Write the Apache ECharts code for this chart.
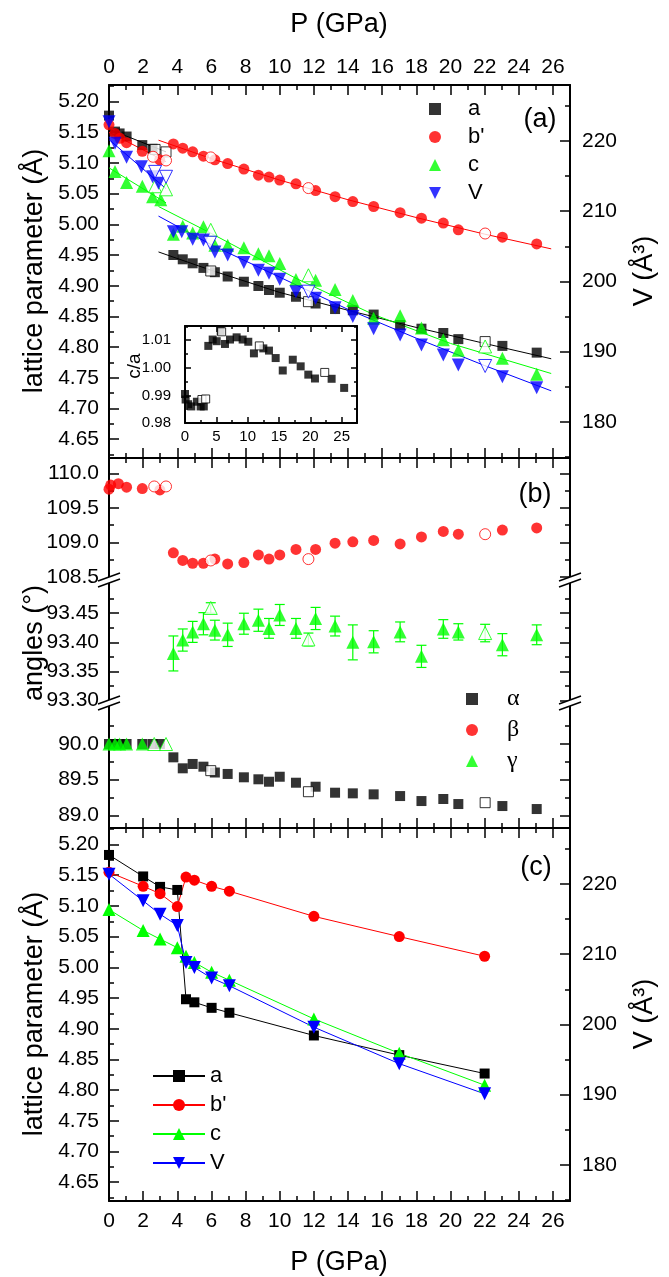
<!DOCTYPE html>
<html>
<head>
<meta charset="utf-8">
<title>Lattice parameters and angles vs pressure</title>
<script src="https://cdn.jsdelivr.net/npm/echarts@6.0.0/dist/echarts.min.js"></script>
<style>
html,body{margin:0;padding:0;background:#ffffff;}
#chart{width:669px;height:1277px;}
</style>
</head>
<body>
<div id="chart"></div>
<script>
// ---------------- tick values ----------------
const pMajorTicks = [0,2,4,6,8,10,12,14,16,18,20,22,24,26];
const pMinorTicks = [1,3,5,7,9,11,13,15,17,19,21,23,25];
const latMajorTicks = [4.65,4.70,4.75,4.80,4.85,4.90,4.95,5.00,5.05,5.10,5.15,5.20];
const latMinorTicks = [4.625,4.675,4.725,4.775,4.825,4.875,4.925,4.975,5.025,5.075,5.125,5.175,5.225];
const volMajorTicks = [180,190,200,210,220];
const volMinorTicks = [175,185,195,205,215,225];
const insetPMajorTicks = [0,5,10,15,20,25];
const insetPMinorTicks = [2.5,7.5,12.5,17.5,22.5];
const caMajorTicks = [0.98,0.99,1.00,1.01];
const caMinorTicks = [0.985,0.995,1.005,1.015];
const betaMajorTicks = [108.5,109.0,109.5,110.0];
const betaMinorTicks = [108.75,109.25,109.75];
const gammaMajorTicks = [93.30,93.35,93.40,93.45];
const gammaMinorTicks = [93.325,93.375,93.425,93.475];
const alphaMajorTicks = [89.0,89.5,90.0];
const alphaMinorTicks = [89.25,89.75,90.25];

// ---------------- panel (a): lattice parameters [P (GPa), value] ----------------
const aFilled = [[0,5.177],[0.35,5.151],[0.62,5.148],[1.03,5.143],[1.95,5.129],[2.55,5.123],
  [3.77,4.950],[4.32,4.943],[4.9,4.9365],[5.53,4.929],[6.2,4.922],[6.95,4.915],[7.9,4.9065],[8.75,4.8995],
  [9.37,4.893],[10.0,4.8886],[10.95,4.882],[12.1,4.871],[13.24,4.862],[14.28,4.860],[15.5,4.853],
  [17.05,4.836],[18.3,4.830],[19.58,4.823],[20.46,4.813],[23.04,4.802],[25.05,4.791]];
const aOpen = [[2.7,5.122],[3.34,5.118],[5.96,4.924],[11.68,4.874],[22.03,4.809]];
const bFilled = [[0,5.162],[0.35,5.148],[0.64,5.140],[1.03,5.133],[1.95,5.119],[2.97,5.105],
  [3.77,5.131],[4.32,5.124],[4.9,5.118],[5.53,5.111],[6.2,5.105],[6.95,5.099],[7.9,5.090],[8.75,5.080],
  [9.37,5.077],[10.0,5.072],[10.95,5.066],[12.1,5.055],[13.24,5.045],[14.28,5.037],[15.5,5.029],
  [17.05,5.019],[18.3,5.010],[19.58,5.002],[20.46,4.991],[23.04,4.979],[25.05,4.968]];
const bOpen = [[2.58,5.110],[3.34,5.104],[5.96,5.109],[11.68,5.059],[22.03,4.985]];
const cFilled = [[0,5.120],[0.35,5.086],[1.03,5.068],[1.95,5.062],[2.55,5.045],[3.03,5.040],
  [3.77,4.984],[4.32,4.997],[4.9,4.986],[5.53,4.996],[6.2,4.966],[6.95,4.966],[7.9,4.962],[8.75,4.952],
  [9.37,4.949],[10.0,4.936],[10.95,4.910],[12.1,4.909],[13.24,4.894],[14.28,4.876],[15.5,4.847],
  [17.05,4.851],[18.3,4.831],[19.58,4.812],[20.46,4.795],[23.04,4.782],[25.05,4.756]];
const cOpen = [[2.7,5.062],[3.34,5.057],[5.96,4.991],[11.68,4.917],[22.03,4.801]];
const vFilled = [[0,222.75],[0.35,219.67],[1.03,217.68],[1.9,216.34],[2.55,214.9],[2.9,213.97],
  [3.77,207.08],[4.26,207.08],[4.9,206.0],[5.53,205.9],[6.2,204.2],[6.95,203.75],[7.9,202.7],[8.75,201.6],
  [9.37,201.15],[10.0,200.3],[10.95,198.53],[12.1,197.58],[13.24,196.25],[14.28,195.0],[15.5,193.25],
  [17.05,192.35],[18.3,190.93],[19.58,189.5],[20.46,188.08],[23.04,186.41],[25.05,184.85]];
const vOpen = [[2.7,215.6],[3.34,214.9],[5.92,205.5],[11.68,198.53],[22.03,187.94]];
// fitted curves
const aFitLow = [[0,5.155],[3.34,5.118]];
const bFitLow = [[0,5.150],[3.34,5.102]];
const cFitLow = [[0,5.092],[3.34,5.035]];
const vFitLow = [[0,220.2],[3.34,213.2]];
const aFitHigh = [[2.9,4.955],[6,4.925],[10,4.889],[14,4.860],[18,4.832],[22,4.806],[25.9,4.781]];
const bFitHigh = [[2.9,5.137],[6,5.107],[10,5.072],[14,5.040],[18,5.011],[22,4.984],[25.9,4.960]];
const cFitHigh = [[2.9,5.029],[6,4.985],[10.95,4.912],[15.5,4.853],[20,4.806],[25.9,4.757]];
const vFitHigh = [[2.9,209.3],[6,205.2],[10,200.6],[14,196.0],[18,191.9],[22,188.0],[25.9,184.4]];

// inset c/a
const caFilled = [[0,0.9905],[0.1,0.9885],[0.5,0.9868],[1.0,0.986],[1.9,0.9877],[2.5,0.986],[3.0,0.986],
  [3.72,1.0079],[4.42,1.0102],[5.06,1.0096],[5.7,1.0133],[6.38,1.0086],[7.18,1.0102],[8.24,1.011],
  [9.2,1.0102],[10.1,1.0094],[11.0,1.0052],[12.5,1.007],[13.4,1.0062],[14.47,1.0035],[15.6,0.999],
  [17.2,1.0029],[18.46,1.0005],[19.68,0.9975],[20.74,0.9961],[23.4,0.996],[25.4,0.9927]];
const caOpen = [[2.7,0.9885],[3.3,0.9887],[5.85,1.013],[11.86,1.0079],[22.3,0.9983]];

// ---------------- panel (b): angles ----------------
const betaFilled = [[0,109.77],[0.1,109.83],[0.55,109.85],[1.03,109.80],[1.95,109.78],[2.98,109.76],
  [3.77,108.85],[4.32,108.74],[4.9,108.70],[5.53,108.70],[6.2,108.76],[6.95,108.69],[7.9,108.71],
  [8.75,108.82],[9.37,108.76],[10.0,108.82],[10.95,108.90],[12.1,108.90],[13.24,108.99],[14.28,109.01],
  [15.5,109.03],[17.05,108.98],[18.3,109.08],[19.58,109.16],[20.46,109.12],[23.04,109.18],[25.05,109.21]];
const betaOpen = [[2.65,109.81],[3.34,109.81],[5.96,108.74],[11.68,108.76],[22.03,109.12]];
// [P, gamma, error]
const gammaFilled = [[3.77,93.381,0.030],[4.32,93.404,0.019],[4.9,93.418,0.018],[5.53,93.432,0.019],
  [6.2,93.421,0.017],[6.95,93.413,0.020],[7.9,93.432,0.018],[8.75,93.438,0.019],[9.37,93.424,0.017],
  [10.0,93.447,0.018],[10.95,93.424,0.017],[12.1,93.441,0.019],[13.24,93.428,0.017],[14.28,93.400,0.030],
  [15.5,93.401,0.019],[17.05,93.418,0.017],[18.3,93.376,0.019],[19.58,93.423,0.016],[20.46,93.418,0.014],
  [23.04,93.396,0.019],[25.05,93.413,0.017]];
const gammaOpen = [[5.96,93.459,0.009],[11.68,93.405,0.011],[22.03,93.416,0.015]];
const gammaLowFilled = [[0,90],[0.35,90],[0.62,90],[1.03,90],[1.95,90]];
const gammaLowOpen = [[2.65,90],[3.34,90]];
const alphaFilled = [[0,90],[0.35,90],[0.62,90],[1.03,90],[1.95,90],[2.55,90],[2.98,90],
  [3.77,89.813],[4.32,89.659],[4.9,89.72],[5.53,89.682],[6.2,89.60],[6.95,89.58],[7.9,89.533],
  [8.75,89.505],[9.37,89.471],[10.0,89.541],[10.95,89.457],[12.1,89.401],[13.24,89.317],[14.28,89.308],
  [15.5,89.294],[17.05,89.27],[18.3,89.20],[19.58,89.229],[20.46,89.158],[23.04,89.13],[25.05,89.088]];
const alphaOpen = [[5.96,89.626],[11.68,89.331],[22.03,89.177]];

// ---------------- panel (c) ----------------
const pC = [0, 2.0, 2.99, 4.0, 4.51, 5.0, 6.01, 7.05, 12.0, 17.0, 22.0];
const aC = [5.183, 5.148, 5.131, 5.126, 4.948, 4.943, 4.934, 4.926, 4.889, 4.857, 4.827];
const bC = [5.155, 5.132, 5.120, 5.099, 5.147, 5.142, 5.132, 5.124, 5.083, 5.050, 5.018];
const cC = [5.094, 5.060, 5.046, 5.032, 5.018, 5.008, 4.992, 4.979, 4.916, 4.860, 4.808];
const vC = [221.4, 217.6, 215.7, 214.1, 208.8, 208.1, 206.6, 205.5, 199.6, 194.4, 190.1];

// ---------------- layout ----------------
const FONT = 'Liberation Sans';
const P_RANGE = [0, 27];
const LAT_RANGE = [4.6194, 5.2269];
const VOL_RANGE = [174.83, 227.98];
const INSET_P_RANGE = [0, 27.45];
const CA_RANGE = [0.98, 1.0151];
const BETA_RANGE = [108.458, 110.221];
const GAMMA_RANGE = [93.296, 93.507];
const ALPHA_RANGE = [88.822, 90.575];

const grids = [
  {left:109, top:85, width:461, height:373},
  {left:185, top:326, width:172, height:97, show:true, backgroundColor:'#fff', borderWidth:0},
  {left:109, top:458, width:461, height:122},
  {left:109, top:580, width:461, height:123},
  {left:109, top:703, width:461, height:125},
  {left:109, top:828, width:461, height:373}
].map(g => Object.assign({containLabel:false, outerBoundsMode:'none'}, g));

const xAxes = [], yAxes = [];
function axis(list, grid, pos, range, ticks, len, opts) {
  opts = opts || {};
  list.push({
    type:'value', gridIndex:grid, position:pos, min:range[0], max:range[1],
    show: !opts.hidden,
    axisLine:{show: opts.line !== false, onZero:false, lineStyle:{color:'#000', width:2}},
    axisTick:{show: len > 0, inside:true, length:len, customValues:ticks, lineStyle:{color:'#000', width:1.5}},
    axisLabel: opts.fmt ? {show:true, customValues:ticks, formatter:opts.fmt, fontSize:opts.fs || 21,
      fontFamily:FONT, color:'#000', margin: opts.margin == null ? 10 : opts.margin, hideOverlap:false}
      : {show:false},
    splitLine:{show:false}, minorTick:{show:false}, minorSplitLine:{show:false},
    silent:true
  });
  return list.length - 1;
}
const fInt = v => String(Math.round(v));
const f2 = v => v.toFixed(2);
const f1 = v => v.toFixed(1);

// grid 0 : panel (a)
const XA = axis(xAxes,0,'top',P_RANGE,pMajorTicks,10,{fmt:fInt, margin:7});
axis(xAxes,0,'top',P_RANGE,pMinorTicks,5,{line:false});
axis(xAxes,0,'bottom',P_RANGE,pMajorTicks,10);
axis(xAxes,0,'bottom',P_RANGE,pMinorTicks,5,{line:false});
const YA = axis(yAxes,0,'left',LAT_RANGE,latMajorTicks,10,{fmt:f2});
axis(yAxes,0,'left',LAT_RANGE,latMinorTicks,5,{line:false});
const YAV = axis(yAxes,0,'right',VOL_RANGE,volMajorTicks,10,{fmt:fInt, margin:12});
axis(yAxes,0,'right',VOL_RANGE,volMinorTicks,5,{line:false});
// grid 1 : inset
const XI = axis(xAxes,1,'bottom',INSET_P_RANGE,insetPMajorTicks,6,{fmt:fInt, fs:15, margin:6});
axis(xAxes,1,'bottom',INSET_P_RANGE,insetPMinorTicks,3,{line:false});
axis(xAxes,1,'top',INSET_P_RANGE,insetPMajorTicks,6);
axis(xAxes,1,'top',INSET_P_RANGE,insetPMinorTicks,3,{line:false});
const YI = axis(yAxes,1,'left',CA_RANGE,caMajorTicks,6,{fmt:f2, fs:15, margin:14});
axis(yAxes,1,'left',CA_RANGE,caMinorTicks,3,{line:false});
axis(yAxes,1,'right',CA_RANGE,caMajorTicks,6);
axis(yAxes,1,'right',CA_RANGE,caMinorTicks,3,{line:false});
// grid 2 : beta segment
const XB1 = axis(xAxes,2,'top',P_RANGE,pMajorTicks,10);
axis(xAxes,2,'top',P_RANGE,pMinorTicks,5,{line:false});
const YB1 = axis(yAxes,2,'left',BETA_RANGE,betaMajorTicks,10,{fmt:f1});
axis(yAxes,2,'left',BETA_RANGE,betaMinorTicks,5,{line:false});
axis(yAxes,2,'right',BETA_RANGE,betaMajorTicks,10);
axis(yAxes,2,'right',BETA_RANGE,betaMinorTicks,5,{line:false});
// grid 3 : gamma segment
const XB2 = axis(xAxes,3,'bottom',P_RANGE,pMajorTicks,0,{hidden:true});
const YB2 = axis(yAxes,3,'left',GAMMA_RANGE,gammaMajorTicks,10,{fmt:f2});
axis(yAxes,3,'left',GAMMA_RANGE,gammaMinorTicks,5,{line:false});
axis(yAxes,3,'right',GAMMA_RANGE,gammaMajorTicks,10);
axis(yAxes,3,'right',GAMMA_RANGE,gammaMinorTicks,5,{line:false});
// grid 4 : alpha segment
const XB3 = axis(xAxes,4,'bottom',P_RANGE,pMajorTicks,10);
axis(xAxes,4,'bottom',P_RANGE,pMinorTicks,5,{line:false});
const YB3 = axis(yAxes,4,'left',ALPHA_RANGE,alphaMajorTicks,10,{fmt:f1});
axis(yAxes,4,'left',ALPHA_RANGE,alphaMinorTicks,5,{line:false});
axis(yAxes,4,'right',ALPHA_RANGE,alphaMajorTicks,10);
axis(yAxes,4,'right',ALPHA_RANGE,alphaMinorTicks,5,{line:false});
// grid 5 : panel (c)
axis(xAxes,5,'top',P_RANGE,pMajorTicks,10);
axis(xAxes,5,'top',P_RANGE,pMinorTicks,5,{line:false});
const XC = axis(xAxes,5,'bottom',P_RANGE,pMajorTicks,10,{fmt:fInt, margin:10});
axis(xAxes,5,'bottom',P_RANGE,pMinorTicks,5,{line:false});
const YC = axis(yAxes,5,'left',LAT_RANGE,latMajorTicks,10,{fmt:f2});
axis(yAxes,5,'left',LAT_RANGE,latMinorTicks,5,{line:false});
const YCV = axis(yAxes,5,'right',VOL_RANGE,volMajorTicks,10,{fmt:fInt, margin:12});
axis(yAxes,5,'right',VOL_RANGE,volMinorTicks,5,{line:false});

// ---------------- series helpers ----------------
const BLACK = '#000000', RED = '#ff0000', GREEN = '#00ff00', BLUE = '#0000ff';
const SYM = {
  sq:{symbol:'rect', size:10, rot:0},
  ci:{symbol:'circle', size:11, rot:0},
  up:{symbol:'triangle', size:13, rot:0},
  dn:{symbol:'triangle', size:13, rot:180}
};
function scat(name, data, xi, yi, s, color, open, size) {
  return {
    type:'scatter', name:name, data:data, xAxisIndex:xi, yAxisIndex:yi,
    encode:{x:0, y:1},
    symbol:s.symbol, symbolSize:size || s.size, symbolRotate:s.rot,
    itemStyle: open ? {color:'#ffffff', borderColor:color, borderWidth:1}
                    : {color:color, borderWidth:0},
    silent:true, animation:false, z:3
  };
}
function fit(data, xi, yi, color) {
  return {type:'line', data:data, xAxisIndex:xi, yAxisIndex:yi, symbol:'none',
    lineStyle:{color:color, width:1}, silent:true, animation:false, z:2};
}
function linePts(name, xs, ys, xi, yi, s, color) {
  return {type:'line', name:name, data:xs.map((x,i) => [x, ys[i]]), xAxisIndex:xi, yAxisIndex:yi,
    symbol:s.symbol, symbolSize:s.size, symbolRotate:s.rot, showSymbol:true, showAllSymbol:true,
    itemStyle:{color:color}, lineStyle:{color:color, width:1}, silent:true, animation:false, z:3};
}
function errBars(data, xi, yi, color) {
  return {
    type:'custom', data:data, xAxisIndex:xi, yAxisIndex:yi, encode:{x:0, y:1}, silent:true, z:2,
    renderItem:function(params, api) {
      const x = api.value(0), y = api.value(1), e = api.value(2);
      const t = api.coord([x, y + e]);
      const b = api.coord([x, y - e]);
      const st = {stroke:color, lineWidth:1.2};
      return {type:'group', children:[
        {type:'line', shape:{x1:t[0], y1:t[1], x2:b[0], y2:b[1]}, style:st},
        {type:'line', shape:{x1:t[0]-5, y1:t[1], x2:t[0]+5, y2:t[1]}, style:st},
        {type:'line', shape:{x1:b[0]-5, y1:b[1], x2:b[0]+5, y2:b[1]}, style:st}
      ]};
    }
  };
}

const series = [
  // panel (a)
  fit(aFitLow, XA, YA, BLACK), fit(bFitLow, XA, YA, RED), fit(cFitLow, XA, YA, GREEN), fit(vFitLow, XA, YAV, BLUE),
  fit(aFitHigh, XA, YA, BLACK), fit(bFitHigh, XA, YA, RED), fit(cFitHigh, XA, YA, GREEN), fit(vFitHigh, XA, YAV, BLUE),
  scat('a', aFilled, XA, YA, SYM.sq, BLACK),
  scat('a open', aOpen, XA, YA, SYM.sq, BLACK, true),
  scat("b'", bFilled, XA, YA, SYM.ci, RED),
  scat("b' open", bOpen, XA, YA, SYM.ci, RED, true),
  scat('c', cFilled, XA, YA, SYM.up, GREEN),
  scat('c open', cOpen, XA, YA, SYM.up, GREEN, true),
  scat('V', vFilled, XA, YAV, SYM.dn, BLUE),
  scat('V open', vOpen, XA, YAV, SYM.dn, BLUE, true),
  // inset
  scat('c/a', caFilled, XI, YI, SYM.sq, BLACK, false, 8),
  scat('c/a open', caOpen, XI, YI, SYM.sq, BLACK, true, 8),
  // panel (b)
  scat('β', betaFilled, XB1, YB1, SYM.ci, RED),
  scat('β open', betaOpen, XB1, YB1, SYM.ci, RED, true),
  errBars(gammaFilled, XB2, YB2, GREEN),
  errBars(gammaOpen, XB2, YB2, GREEN),
  scat('γ', gammaFilled, XB2, YB2, SYM.up, GREEN),
  scat('γ open', gammaOpen, XB2, YB2, SYM.up, GREEN, true),
  scat('α', alphaFilled, XB3, YB3, SYM.sq, BLACK),
  scat('α open', alphaOpen, XB3, YB3, SYM.sq, BLACK, true),
  scat('γ low', gammaLowFilled, XB3, YB3, SYM.up, GREEN),
  scat('γ low open', gammaLowOpen, XB3, YB3, SYM.up, GREEN, true),
  // panel (c)
  linePts('a_c', pC, aC, XC, YC, SYM.sq, BLACK),
  linePts("b'_c", pC, bC, XC, YC, SYM.ci, RED),
  linePts('c_c', pC, cC, XC, YC, SYM.up, GREEN),
  linePts('V_c', pC, vC, XC, YCV, SYM.dn, BLUE)
];

// ---------------- decorations (titles, labels, axis breaks) ----------------
function txt(x, y, s, size, rot, family) {
  return {type:'text', x:x, y:y, rotation:rot || 0, z:50, silent:true,
    style:{text:s, fontSize:size, fontFamily:family || FONT, fill:'#000', align:'center', verticalAlign:'middle'}};
}
function breakMark(x, y) {
  return [
    {type:'polygon', z:60, silent:true, shape:{points:[[x-11,y+1],[x+11,y-7],[x+11,y-1],[x-11,y+7]]}, style:{fill:'#fff'}},
    {type:'line', z:61, silent:true, shape:{x1:x-11, y1:y+1, x2:x+11, y2:y-7}, style:{stroke:'#000', lineWidth:1.5}},
    {type:'line', z:61, silent:true, shape:{x1:x-11, y1:y+7, x2:x+11, y2:y-1}, style:{stroke:'#000', lineWidth:1.5}}
  ];
}
const R90 = Math.PI / 2;
const graphics = [
  txt(339, 25, 'P (GPa)', 27),
  txt(339, 1263, 'P (GPa)', 27),
  txt(35, 271, 'lattice parameter (Å)', 27, R90),
  txt(35, 643, 'angles (°)', 27, R90),
  txt(35, 1014, 'lattice parameter (Å)', 27, R90),
  txt(645, 271, 'V (Å³)', 27, R90),
  txt(645, 1014, 'V (Å³)', 27, R90),
  txt(135, 366, 'c/a', 19, R90),
  txt(540, 120, '(a)', 27),
  txt(535, 495, '(b)', 27),
  txt(536, 868, '(c)', 27)
].concat(breakMark(109, 580), breakMark(570, 580), breakMark(109, 703), breakMark(570, 703));

const DOWN_ICON = 'path://M0,0L10,0L5,10Z';
const legendText = {fontSize:22, fontFamily:FONT, color:'#000'};
const option = {
  animation:false,
  backgroundColor:'#ffffff',
  grid:grids,
  xAxis:xAxes,
  yAxis:yAxes,
  legend:[
    {orient:'vertical', left:424, top:93, itemWidth:12, itemHeight:12, itemGap:6, selectedMode:false,
     data:['a',"b'",'c',{name:'V', icon:DOWN_ICON}], textStyle:Object.assign({padding:[0,0,0,22]}, legendText)},
    {orient:'vertical', left:461, top:682, itemWidth:12, itemHeight:12, itemGap:7, selectedMode:false,
     data:['α','β','γ'], textStyle:{fontSize:24, fontFamily:'Liberation Serif', color:'#000', padding:[0,0,0,24]}},
    {orient:'vertical', left:147, top:1060, itemWidth:52, itemHeight:15, itemGap:7, selectedMode:false,
     data:['a_c',"b'_c",'c_c','V_c'], formatter:n => n.replace('_c',''), textStyle:legendText}
  ],
  series:series,
  graphic:{elements:graphics}
};
const chart = echarts.init(document.getElementById('chart'), null, {renderer:'canvas'});
chart.setOption(option);
</script>
</body>
</html>
